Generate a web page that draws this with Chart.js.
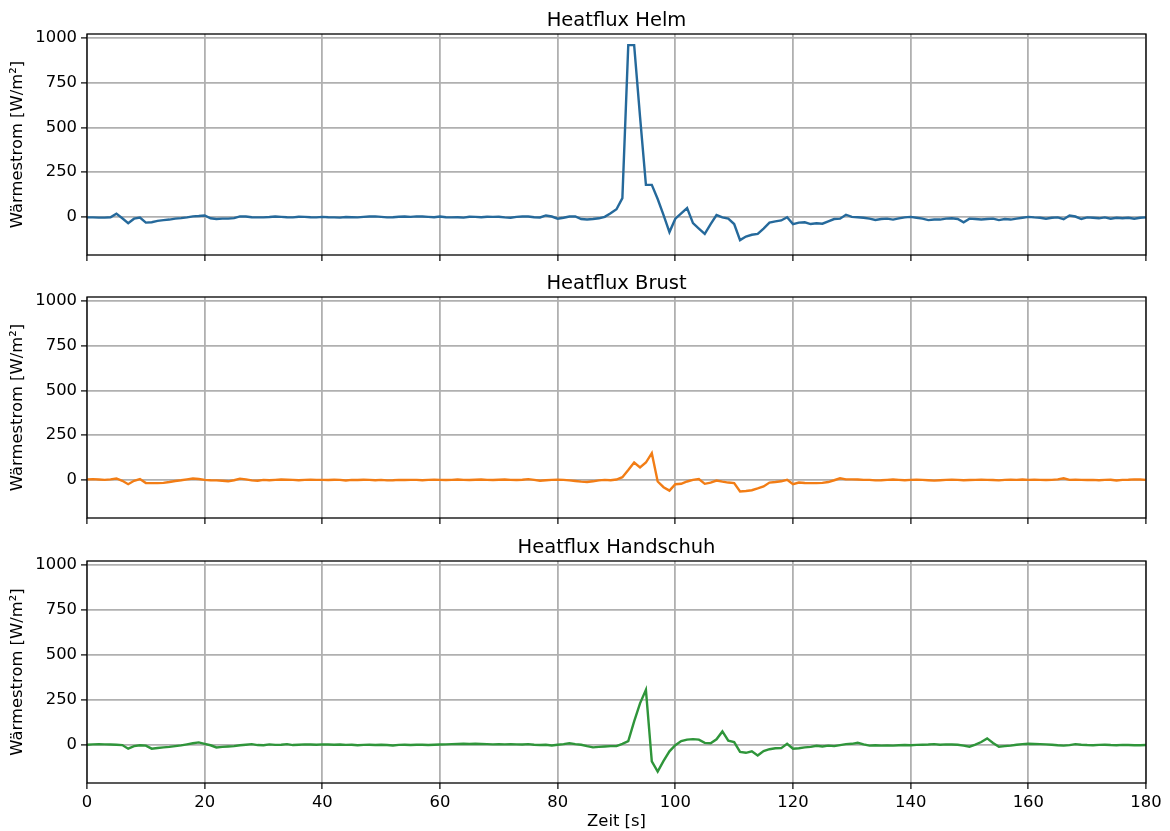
<!DOCTYPE html>
<html>
<head>
<meta charset="utf-8">
<script src="https://cdn.jsdelivr.net/npm/chart.js@4.4.1/dist/chart.umd.min.js"></script>
<style>
  body { margin: 0; background: #fff; }
  #fig { position: relative; width: 1170px; height: 831px; }
  canvas { position: absolute; left: 0; }
</style>
</head>
<body>
<div id="fig">
  <canvas id="helm" width="1170" height="263" style="top:0px"></canvas>
  <canvas id="brust" width="1170" height="263" style="top:263px"></canvas>
  <canvas id="handschuh" width="1170" height="304" style="top:527px"></canvas>
</div>
<script>
// Zeitachse in Sekunden (Messung alle 1 s)
const zeit = Array.from({ length: 181 }, (_, i) => i);

const xTicks = [0, 20, 40, 60, 80, 100, 120, 140, 160, 180];
const yTicks = [0, 250, 500, 750, 1000];

const helm = [
  -3, -3, -4, -4, -2, 18, -8, -35, -10, -4,
  -32, -30, -22, -18, -15, -10, -7, -3, 3, 5,
  8, -8, -12, -10, -10, -7, 3, 2, -2, -3,
  -3, -1, 2, 0, -2, -3, 1, 0, -2, -3,
  0, -2, -3, -4, -1, -2, -3, 0, 2, 3,
  0, -3, -2, 1, 2, 0, 3, 2, 0, -2,
  2, -2, -3, -2, -4, 1, 0, -2, 1, 0,
  1, -3, -5, 0, 2, 2, -2, -3, 8, 2,
  -10, -5, 2, 3, -12, -15, -12, -8, 0, 20,
  43, 105, 960, 960, 560, 179, 179, 100, 10, -85,
  -10, 20, 49, -35, -65, -95, -40, 10, -3, -10,
  -40, -130, -110, -100, -95, -65, -32, -25, -20, -2,
  -40, -32, -30, -40, -36, -38, -25, -12, -10, 12,
  0, -2, -5, -10, -17, -12, -10, -15, -8, -3,
  0, -5, -10, -18, -15, -15, -10, -8, -12, -30,
  -10, -12, -15, -12, -10, -18, -12, -15, -10, -5,
  0, -3, -5, -10, -5, -3, -13, 8, 2, -12,
  -3, -5, -8, -3, -10, -5, -8, -5, -10, -5,
  -3
];

const brust = [
  3, 4, 2, 0, 3, 8, -5, -24, -5, 5,
  -18, -18, -18, -17, -12, -6, -2, 3, 8, 5,
  0, -2, -3, -5, -8, -2, 7, 3, -3, -5,
  0, -2, 0, 2, 1, 0, -2, 0, 1, 0,
  0, -1, 1, 0, -3, 0, -1, 1, 0, -2,
  0, -3, -2, 0, -1, 0, 0, -2, 0, 1,
  0, -1, 0, 2, 0, -1, 1, 2, 0, -1,
  1, 2, 0, -1, 1, 4, 0, -5, -2, 0,
  1, 0, -3, -6, -10, -12, -8, -3, 0, -2,
  2, 15, 55, 97, 69, 97, 149, -9, -41, -60,
  -24, -22, -9, 0, 5, -22, -15, -4, -10, -15,
  -18, -65, -62, -58, -48, -37, -15, -12, -8, 0,
  -24, -15, -17, -18, -18, -17, -12, -2, 9, 3,
  3, 2, 0, 0, -3, -2, 0, 2, 0, -2,
  0, 1, 0, -2, -4, -2, 0, 1, 0, -2,
  -1, 0, 1, 0, -1, -3, 0, 1, 0, 2,
  0, 1, 0, -1, 0, 3, 9, 0, 1, 0,
  -1, 0, -2, 0, 1, -3, 0, 1, 3, 2,
  0
];

const handschuh = [
  0, 2, 3, 2, 1, 0, -2, -22, -8, -3,
  -5, -22, -18, -15, -12, -8, -4, 2, 8, 13,
  5, -3, -15, -12, -10, -8, -3, 0, 3, -2,
  -3, 2, -1, 0, 3, -2, 0, 2, 1, 0,
  2, 1, 0, 1, -1, 0, -3, -1, 0, -2,
  0, -2, -4, -1, 0, -2, 0, 0, -2, 0,
  1, 2, 3, 4, 5, 4, 5, 4, 3, 2,
  3, 2, 3, 2, 1, 3, 0, -2, 0, -4,
  0, 3, 8, 3, 0, -8, -15, -12, -10, -8,
  -8, 5, 20, 130, 230, 305, -93, -149, -90, -37,
  -3, 20, 28, 31, 28, 10, 8, 30, 74, 22,
  15, -40, -45, -37, -60, -35, -25, -20, -19, 5,
  -22, -20, -15, -12, -6, -10, -5, -8, -2, 3,
  5, 11, 2, -5, -3, -5, -4, -5, -3, -2,
  -3, -1, 0, 1, 3, 0, 2, 1, 0, -5,
  -11, 0, 15, 35, 10, -11, -8, -5, 0, 3,
  5, 4, 3, 2, 0, -3, -5, -2, 3, 0,
  -2, -3, -1, 0, -2, -3, -1, -2, -3, -3,
  -2
];

const schrift = 'DejaVu Sans';
const gitterFarbe = '#b0b0b0';

// Rahmen um die Zeichenfläche (wie die Achsenlinien bei matplotlib)
const rahmen = {
  id: 'rahmen',
  afterDatasetsDraw(chart) {
    const { ctx, chartArea: a } = chart;
    ctx.save();
    ctx.strokeStyle = '#000';
    ctx.lineWidth = 1.3;
    ctx.strokeRect(a.left, a.top, a.right - a.left, a.bottom - a.top);
    ctx.restore();
  }
};

function makePanel(id, titel, werte, farbe, mitAchse) {
  new Chart(document.getElementById(id), {
    type: 'line',
    data: {
      datasets: [{
        data: zeit.map((t, i) => ({ x: t, y: werte[i] })),
        borderColor: farbe,
        borderWidth: 2.4,
        pointRadius: 0,
        fill: false,
        tension: 0
      }]
    },
    options: {
      responsive: false,
      animation: false,
      layout: { padding: { left: 0, right: 24, top: 0, bottom: 0 } },
      plugins: {
        legend: { display: false },
        tooltip: { enabled: false },
        title: {
          display: true,
          fullSize: false,
          text: titel,
          color: '#000',
          font: { family: schrift, size: 19.5, weight: 'normal' },
          padding: { top: 9, bottom: 1.6 }
        }
      },
      scales: {
        x: {
          type: 'linear',
          min: 0,
          max: 180,
          afterBuildTicks: s => { s.ticks = xTicks.map(v => ({ value: v })); },
          afterFit: s => { s.height = mitAchse ? 48 : 8; s.paddingLeft = 0; s.paddingRight = 0; },
          grid: { color: gitterFarbe, lineWidth: 1.8, tickColor: '#000', tickWidth: 1.2, tickLength: 6 },
          border: { display: false },
          ticks: {
            display: mitAchse,
            color: '#000',
            padding: 4,
            maxRotation: 0,
            font: { family: schrift, size: 16.4 },
            callback: v => String(v)
          },
          title: {
            display: mitAchse,
            text: 'Zeit [s]',
            color: '#000',
            font: { family: schrift, size: 16.4 },
            padding: { top: 0, bottom: -1 }
          }
        },
        y: {
          min: -213,
          max: 1022,
          afterBuildTicks: s => { s.ticks = yTicks.map(v => ({ value: v })); },
          afterFit: s => { s.width = 87; s.paddingTop = 0; s.paddingBottom = 0; },
          grid: { color: gitterFarbe, lineWidth: 1.8, tickColor: '#000', tickWidth: 1.2, tickLength: 6 },
          border: { display: false },
          ticks: {
            color: '#000',
            padding: 4,
            font: { family: schrift, size: 16.4 },
            callback: v => String(v)
          },
          title: {
            display: true,
            text: 'Wärmestrom [W/m²]',
            color: '#000',
            font: { family: schrift, size: 16.4 },
            padding: { top: 8, bottom: 0 }
          }
        }
      }
    },
    plugins: [rahmen]
  });
}

makePanel('helm', 'Heatflux Helm', helm, '#25699b', false);
makePanel('brust', 'Heatflux Brust', brust, '#f27d15', false);
makePanel('handschuh', 'Heatflux Handschuh', handschuh, '#2f953a', true);
</script>
</body>
</html>
